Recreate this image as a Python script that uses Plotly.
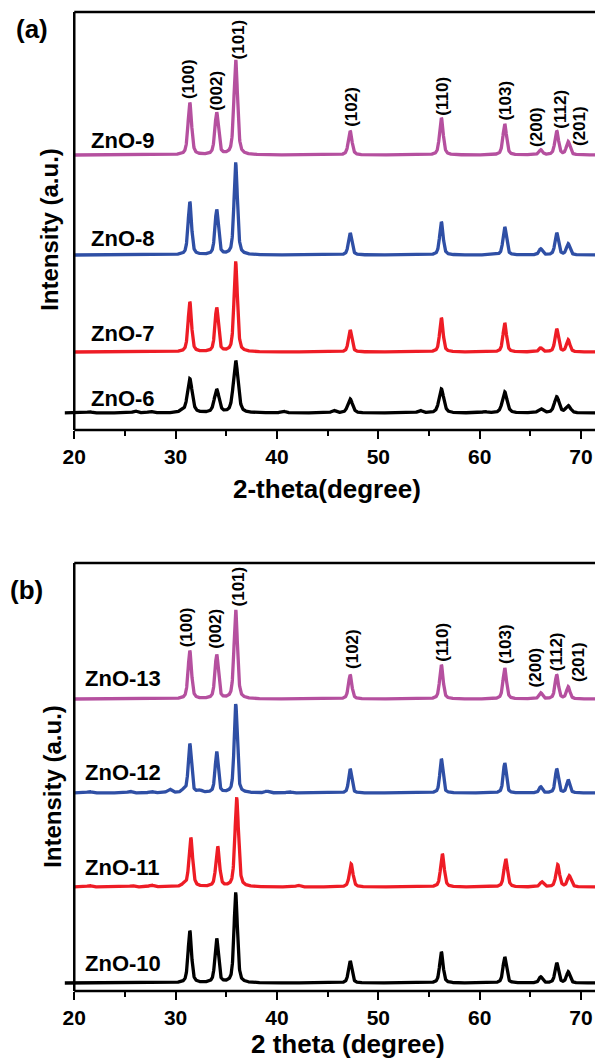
import numpy as np
import plotly.graph_objects as go

# ---------------- data ----------------
hkl = ["(100)", "(002)", "(101)", "(102)", "(110)", "(103)", "(200)", "(112)", "(201)"]
peak_pos = [31.4, 34.05, 35.93, 47.22, 56.22, 62.47, 66.02, 67.6, 68.73]

# panel (a)
names_a = ["ZnO-9", "ZnO-8", "ZnO-7", "ZnO-6"]
colors_a = ["#B5509F", "#2F4FA5", "#EE1C25", "#000000"]
offset_a = [68.75, 43.75, 19.5, 4.25]
h_zno9 = [13.0, 10.5, 23.75, 6.0, 9.25, 7.75, 1.25, 6.0, 3.25]
h_zno8 = [13.25, 11.25, 22.75, 5.5, 8.25, 7.0, 1.5, 5.5, 2.75]
h_zno7 = [12.5, 11.0, 22.25, 5.5, 8.5, 7.25, 1.0, 5.75, 3.0]
h_zno6 = [8.5, 5.75, 13.0, 3.5, 6.0, 5.25, 1.0, 4.0, 1.75]
fwhm_a = [0.42, 0.40, 0.40, 0.55]
shift_a = [0.0, 0.0, 0.0, 0.0]
label_y_a = [72.5, 48.0, 24.25, 8.0]
hkl_x_a = [31.23, 33.95, 36.2, 47.29, 56.3, 62.46, 65.55, 67.94, 69.8]
hkl_y_a = [82.5, 79.5, 92.5, 75.5, 78.25, 77.0, 70.5, 75.0, 70.75]

# minor bumps (impurity / noise features) for ZnO-6
bump_pos_zno6 = [21.5, 26.0, 27.5, 30.6, 40.6, 45.6, 54.1, 60.5]
bump_h_zno6 = [0.3, 0.5, 0.35, 0.4, 0.45, 0.6, 0.6, 0.3]

# panel (b)
names_b = ["ZnO-13", "ZnO-12", "ZnO-11", "ZnO-10"]
colors_b = ["#B5509F", "#2F4FA5", "#EE1C25", "#000000"]
offset_b = [73.0, 49.5, 26.0, 2.0]
h_zno13 = [12.0, 11.0, 22.25, 6.0, 8.5, 7.75, 1.5, 6.0, 3.0]
h_zno12 = [12.25, 10.25, 22.25, 6.0, 8.5, 7.5, 1.5, 6.0, 3.25]
h_zno11 = [12.25, 10.0, 22.0, 5.75, 8.25, 7.0, 1.25, 5.5, 2.75]
h_zno10 = [13.0, 11.0, 22.25, 5.5, 7.75, 6.5, 1.5, 5.0, 2.75]
fwhm_b = [0.40, 0.36, 0.42, 0.40]
shift_b = [0.0, 0.0, 0.1, 0.0]
label_y_b = [78.25, 54.75, 31.0, 7.0]
hkl_x_b = [31.06, 33.85, 36.2, 47.4, 56.3, 62.5, 65.5, 67.6, 69.7]
hkl_y_b = [85.75, 85.25, 96.0, 80.25, 82.0, 81.5, 75.75, 79.75, 77.0]

bump_pos_zno12 = [21.5, 25.5, 27.6, 29.4, 30.8, 32.4, 39.0, 41.2]
bump_h_zno12 = [0.35, 0.4, 0.35, 0.9, 0.6, 0.5, 0.4, 0.3]
bump_pos_zno11 = [21.5, 25.7, 27.6, 30.8, 42.1]
bump_h_zno11 = [0.35, 0.3, 0.45, 0.5, 0.4]

x_ticks = [20, 30, 40, 50, 60, 70]


# ---------------- helpers ----------------
def profile(x, centers, heights, fwhm, eta=0.5):
    y = np.zeros_like(x)
    g = fwhm / 2.0
    s = fwhm / 2.3548
    for c, h in zip(centers, heights):
        lor = 1.0 / (1.0 + ((x - c) / g) ** 2)
        gau = np.exp(-0.5 * ((x - c) / s) ** 2)
        y += h * (eta * lor + (1 - eta) * gau)
    return y


X_LEFT, X_RIGHT = 19.066, 71.377
FONT = "Liberation Sans"

fig = go.Figure()

panels = [
    dict(names=names_a, colors=colors_a, offs=offset_a,
         heights=[h_zno9, h_zno8, h_zno7, h_zno6], fwhm=fwhm_a, shift=shift_a,
         bumps={3: (bump_pos_zno6, bump_h_zno6)}, labely=label_y_a, labx=21.5,
         hx=hkl_x_a, hy=hkl_y_a, xa="x", ya="y"),
    dict(names=names_b, colors=colors_b, offs=offset_b,
         heights=[h_zno13, h_zno12, h_zno11, h_zno10], fwhm=fwhm_b, shift=shift_b,
         bumps={1: (bump_pos_zno12, bump_h_zno12), 2: (bump_pos_zno11, bump_h_zno11)},
         labely=label_y_b, labx=20.85, hx=hkl_x_b, hy=hkl_y_b, xa="x2", ya="y2"),
]

annotations = []
for p in panels:
    for i, name in enumerate(p["names"]):
        start = 19.0 if p["colors"][i] == "#000000" else 20.0
        x = np.arange(start, 71.5, 0.02)
        centers = [c + p["shift"][i] for c in peak_pos]
        y = p["offs"][i] + profile(x, centers, p["heights"][i], p["fwhm"][i])
        if i in p["bumps"]:
            bp, bh = p["bumps"][i]
            y += profile(x, bp, bh, 0.5)
        fig.add_trace(go.Scatter(x=x, y=y, mode="lines",
                                 line=dict(color=p["colors"][i], width=3.3),
                                 xaxis=p["xa"], yaxis=p["ya"], showlegend=False,
                                 hoverinfo="skip"))
        annotations.append(dict(x=p["labx"], y=p["labely"][i], xref=p["xa"], yref=p["ya"],
                                text=name, showarrow=False, xanchor="left", yanchor="middle",
                                font=dict(family=FONT, size=22, color="black", weight="bold")))
    for t, hx, hy in zip(hkl, p["hx"], p["hy"]):
        annotations.append(dict(x=hx, y=hy, xref=p["xa"], yref=p["ya"], text=t,
                                textangle=-90, showarrow=False, xanchor="center",
                                yanchor="bottom", borderpad=0,
                                font=dict(family=FONT, size=17, color="black", weight="bold")))

H = 1061.0
W = 595.0
dom_a = [1 - 430 / H, 1 - 12 / H]
dom_b = [1 - 991 / H, 1 - 563 / H]
xdom = [63 / W, 1.0]

axis_common = dict(range=[X_LEFT, X_RIGHT], domain=xdom, showgrid=False, zeroline=False,
                   showline=False, ticks="outside", ticklen=8, tickwidth=2.2, tickcolor="black",
                   tickvals=x_ticks, ticktext=[str(v) for v in x_ticks],
                   tickfont=dict(family=FONT, size=21, color="black", weight="bold"),
                   minor=dict(tickvals=[25, 35, 45, 55, 65], ticks="outside", ticklen=4.5,
                              tickwidth=2.2, tickcolor="black"))
fig.update_layout(
    width=595, height=1061, margin=dict(l=0, r=0, t=0, b=0),
    paper_bgcolor="white", plot_bgcolor="white",
    xaxis=dict(**axis_common, anchor="y"),
    xaxis2=dict(**axis_common, anchor="y2"),
    yaxis=dict(domain=dom_a, range=[0, 104.5], showgrid=False, zeroline=False,
               showticklabels=False, showline=False, anchor="x"),
    yaxis2=dict(domain=dom_b, range=[0, 107], showgrid=False, zeroline=False,
                showticklabels=False, showline=False, anchor="x2"),
)

# frame lines (left axis, top border, bottom axis)
shapes = []
for xa, ya in [("x", "y"), ("x2", "y2")]:
    yd = ya + " domain"
    shapes.append(dict(type="line", xref=xa, yref=yd, x0=20, x1=20, y0=0, y1=1,
                       line=dict(color="black", width=2.5)))
    shapes.append(dict(type="line", xref=xa, yref=yd, x0=20, x1=X_RIGHT, y0=1, y1=1,
                       line=dict(color="black", width=2.5)))
    shapes.append(dict(type="line", xref=xa, yref=yd, x0=20, x1=X_RIGHT, y0=0, y1=0,
                       line=dict(color="black", width=2.5)))
fig.update_layout(shapes=shapes)

title_font = dict(family=FONT, size=26, color="black", weight="bold")
ytitle_font = dict(family=FONT, size=24, color="black", weight="bold")
annotations += [
    dict(x=48 / W, y=1 - 229 / H, xref="paper", yref="paper", text="Intensity (a.u.)",
         textangle=-90, showarrow=False, xanchor="center", yanchor="middle", font=ytitle_font),
    dict(x=50 / W, y=1 - 786 / H, xref="paper", yref="paper", text="Intensity (a.u.)",
         textangle=-90, showarrow=False, xanchor="center", yanchor="middle", font=ytitle_font),
    dict(x=326 / W, y=1 - 489 / H, xref="paper", yref="paper", text="2-theta(degree)",
         showarrow=False, xanchor="center", yanchor="middle", font=title_font),
    dict(x=347 / W, y=1 / H, xref="paper", yref="paper", text="2 theta (degree)",
         showarrow=False, xanchor="center", yanchor="bottom", borderpad=0, font=title_font),
    dict(x=30 / W, y=1 - 29 / H, xref="paper", yref="paper", text="(a)",
         showarrow=False, xanchor="center", yanchor="middle",
         font=dict(family=FONT, size=26, color="black", weight="bold")),
    dict(x=24.5 / W, y=1 - 590 / H, xref="paper", yref="paper", text="(b)",
         showarrow=False, xanchor="center", yanchor="middle",
         font=dict(family=FONT, size=26, color="black", weight="bold")),
]
fig.update_layout(annotations=annotations)

fig.write_html("out.html")
